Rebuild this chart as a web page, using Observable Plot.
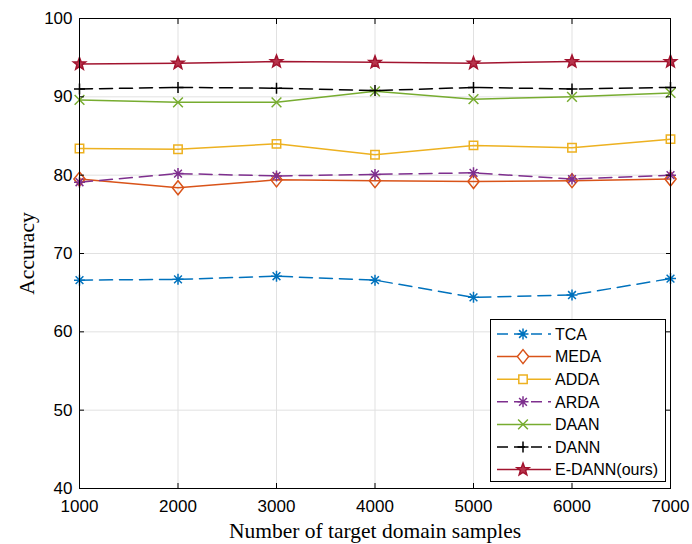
<!DOCTYPE html>
<html>
<head>
<meta charset="utf-8">
<script src="https://cdn.jsdelivr.net/npm/d3@7"></script>
<script src="https://cdn.jsdelivr.net/npm/@observablehq/plot@0.6"></script>
<style>
  html, body { margin: 0; padding: 0; background: #fff; }
  #wrap { position: relative; width: 692px; height: 544px; }
  #legend { position: absolute; left: 490px; top: 319px; }
</style>
</head>
<body>
<div id="wrap"></div>
<script>
// ---------- data ----------
const samples = [1000, 2000, 3000, 4000, 5000, 6000, 7000];
const yTicks = [40, 50, 60, 70, 80, 90, 100];
const seriesNames = ["TCA", "MEDA", "ADDA", "ARDA", "DAAN", "DANN", "E-DANN(ours)"];
const tca   = [66.6, 66.7, 67.1, 66.6, 64.4, 64.7, 66.8];
const meda  = [79.5, 78.4, 79.4, 79.3, 79.2, 79.3, 79.5];
const adda  = [83.4, 83.3, 84.0, 82.6, 83.8, 83.5, 84.6];
const arda  = [79.1, 80.2, 79.9, 80.1, 80.3, 79.5, 80.0];
const daan  = [89.6, 89.3, 89.3, 90.7, 89.7, 90.0, 90.5];
const dann  = [91.0, 91.2, 91.1, 90.8, 91.2, 91.0, 91.2];
const edann = [94.2, 94.3, 94.5, 94.4, 94.3, 94.5, 94.5];
const seriesValues = [tca, meda, adda, arda, daan, dann, edann];

// ---------- custom MATLAB-like markers ----------
const rad = (size) => Math.sqrt(size / Math.PI);
const sym = {
  asterisk: { draw(c, s) { const r = rad(s); for (const a of [0, 45, 90, 135]) { const t = a * Math.PI / 180; c.moveTo(r * Math.cos(t), r * Math.sin(t)); c.lineTo(-r * Math.cos(t), -r * Math.sin(t)); } } },
  diamond: { draw(c, s) { const r = rad(s); const w = r * 0.8; c.moveTo(0, -r); c.lineTo(w, 0); c.lineTo(0, r); c.lineTo(-w, 0); c.closePath(); } },
  square: { draw(c, s) { const r = rad(s); c.rect(-r, -r, 2 * r, 2 * r); } },
  times: { draw(c, s) { const r = rad(s) * 0.75; c.moveTo(-r, -r); c.lineTo(r, r); c.moveTo(r, -r); c.lineTo(-r, r); } },
  plus: { draw(c, s) { const r = rad(s); c.moveTo(-r, 0); c.lineTo(r, 0); c.moveTo(0, -r); c.lineTo(0, r); } },
  star: { draw(c, s) { const R = rad(s), ri = R * 0.42; for (let i = 0; i < 10; i++) { const rr = i % 2 ? ri : R; const t = -Math.PI / 2 + i * Math.PI / 5; const x = rr * Math.cos(t), y = rr * Math.sin(t); if (i === 0) c.moveTo(x, y); else c.lineTo(x, y); } c.closePath(); } }
};

const styles = {
  "TCA":          { color: "#0072BD", dash: "13,7", symbol: sym.asterisk, r: 5.5, fill: "none" },
  "MEDA":         { color: "#D95319", dash: null,   symbol: sym.diamond,  r: 7,   fill: "none" },
  "ADDA":         { color: "#EDB120", dash: null,   symbol: sym.square,   r: 4.2, fill: "none" },
  "ARDA":         { color: "#7E2F8E", dash: "13,7", symbol: sym.asterisk, r: 5.5, fill: "none" },
  "DAAN":         { color: "#77AC30", dash: null,   symbol: sym.times,    r: 6.5, fill: "none" },
  "DANN":         { color: "#000000", dash: "13,7", symbol: sym.plus,     r: 5.5, fill: "none" },
  "E-DANN(ours)": { color: "#A2142F", dash: null,   symbol: sym.star,     r: 6.5, fill: "#B8344C" }
};

const rows = seriesNames.flatMap((name, k) => samples.map((x, i) => ({ name, x, y: seriesValues[k][i] })));

const tickFont = "'Liberation Sans', Arial, Helvetica, sans-serif";
const labelFont = "'Liberation Serif', 'Times New Roman', serif";

const marks = [
  Plot.gridX(samples, { stroke: "#e1e1e1", strokeOpacity: 1, strokeWidth: 1 }),
  Plot.gridY(yTicks, { stroke: "#e1e1e1", strokeOpacity: 1, strokeWidth: 1 })
];
for (const name of seriesNames) {
  const st = styles[name];
  const data = rows.filter(d => d.name === name);
  marks.push(Plot.line(data, { x: "x", y: "y", stroke: st.color, strokeWidth: 1.5, strokeDasharray: st.dash }));
}
for (const name of seriesNames) {
  const st = styles[name];
  const data = rows.filter(d => d.name === name);
  marks.push(Plot.dot(data, { x: "x", y: "y", symbol: st.symbol, r: st.r, stroke: st.color, fill: st.fill, strokeWidth: 1.5 }));
}
marks.push(
  Plot.frame({ stroke: "#000", strokeWidth: 1 }),
  // tick labels
  Plot.axisX(samples, { anchor: "bottom", tickSize: 0, tickPadding: 11, tickFormat: d => String(d), label: null, fontSize: 17, fontFamily: tickFont, fill: "#000" }),
  Plot.axisY(yTicks, { anchor: "left", tickSize: 0, tickPadding: 7, tickFormat: d => String(d), label: null, fontSize: 17, fontFamily: tickFont, fill: "#000" }),
  // inward tick marks on all four sides
  Plot.axisX(samples, { anchor: "bottom", tickSize: 5, dy: -5, tickFormat: () => "", label: null, stroke: "#000" }),
  Plot.axisX(samples, { anchor: "top", tickSize: 5, dy: 5, tickFormat: () => "", label: null, stroke: "#000" }),
  Plot.axisY(yTicks, { anchor: "left", tickSize: 5, dx: 5, tickFormat: () => "", label: null, stroke: "#000" }),
  Plot.axisY(yTicks, { anchor: "right", tickSize: 5, dx: -5, tickFormat: () => "", label: null, stroke: "#000" }),
  // axis titles
  Plot.text(["Number of target domain samples"], { frameAnchor: "bottom", dy: 43, fontSize: 21.5, fontFamily: labelFont, fill: "#000", lineAnchor: "middle", textAnchor: "middle" }),
  Plot.text(["Accuracy"], { frameAnchor: "left", dx: -52, rotate: -90, fontSize: 21.5, fontFamily: labelFont, fill: "#000", textAnchor: "middle", lineAnchor: "middle" })
);

const chart = Plot.plot({
  width: 692,
  height: 544,
  marginLeft: 79,
  marginRight: 22,
  marginTop: 18,
  marginBottom: 56,
  style: { background: "#fff", color: "#000", overflow: "visible" },
  x: { domain: [1000, 7000] },
  y: { domain: [40, 100] },
  marks
});
document.getElementById("wrap").appendChild(chart);

// ---------- legend ----------
const lw = 176, lh = 163, rowH = 22.6, top0 = 15;
const leg = d3.create("svg").attr("id", "legend").attr("width", lw).attr("height", lh);
leg.append("rect").attr("x", 0.5).attr("y", 0.5).attr("width", lw - 1).attr("height", lh - 1)
  .attr("fill", "#fff").attr("stroke", "#000").attr("stroke-width", 1);
seriesNames.forEach((name, i) => {
  const st = styles[name];
  const g = leg.append("g").attr("transform", `translate(0,${top0 + i * rowH})`);
  g.append("line").attr("x1", 7).attr("x2", 61).attr("y1", 0).attr("y2", 0)
    .attr("stroke", st.color).attr("stroke-width", 1.5).attr("stroke-dasharray", st.dash ? "11,6" : null);
  g.append("path").attr("transform", "translate(33,0)")
    .attr("d", d3.symbol(st.symbol, st.r * st.r * Math.PI)())
    .attr("stroke", st.color).attr("fill", st.fill === "none" ? (st.dash ? "none" : "#fff") : st.fill)
    .attr("stroke-width", 1.5);
  g.append("text").attr("x", 65).attr("y", 0).attr("dy", "0.36em")
    .attr("font-family", tickFont).attr("font-size", 16).attr("fill", "#000").text(name);
});
document.getElementById("wrap").appendChild(leg.node());
</script>
</body>
</html>
